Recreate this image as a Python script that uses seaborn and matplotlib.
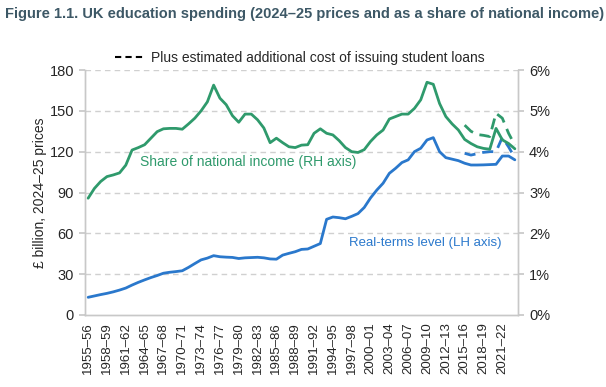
import matplotlib
matplotlib.use("Agg")
import matplotlib.pyplot as plt
import seaborn as sns
import numpy as np
import pandas as pd
from matplotlib.lines import Line2D

start_years = list(range(1955, 2024))
years = [f"{y}–{str(y + 1)[-2:]}" for y in start_years]

real_terms = [13.0, 14.0, 15.0, 15.9, 17.0, 18.3, 19.8, 22.0, 24.0, 25.8,
              27.5, 29.0, 30.7, 31.4, 31.9, 32.5, 35.0, 37.8, 40.5, 41.8,
              43.6, 42.8, 42.5, 42.3, 41.5, 42.0, 42.2, 42.4, 42.0, 41.2,
              41.0, 44.0, 45.3, 46.5, 48.2, 48.5, 50.5, 52.5, 70.3, 72.0,
              71.5, 70.7, 72.5, 74.5, 79.0, 86.0, 91.8, 96.8, 104.1, 107.8,
              112.0, 114.0, 120.0, 122.5, 128.6, 130.3, 120.0, 115.6, 114.5, 113.4,
              111.5, 110.2, 110.2, 110.3, 110.5, 110.7, 116.8, 116.8, 114.0]

share_income = [2.86, 3.10, 3.27, 3.39, 3.43, 3.48, 3.67, 4.04, 4.10, 4.17,
                4.33, 4.49, 4.56, 4.57, 4.57, 4.55, 4.68, 4.82, 5.00, 5.22,
                5.63, 5.31, 5.15, 4.88, 4.72, 4.92, 4.92, 4.78, 4.58, 4.22,
                4.33, 4.22, 4.12, 4.10, 4.16, 4.17, 4.45, 4.56, 4.45, 4.41,
                4.27, 4.10, 4.00, 3.98, 4.05, 4.25, 4.41, 4.53, 4.80, 4.86,
                4.92, 4.92, 5.06, 5.27, 5.70, 5.65, 5.18, 4.86, 4.68, 4.53,
                4.30, 4.20, 4.12, 4.08, 4.06, 4.57, 4.29, 4.20, 4.07]

loans_years = years[60:]
real_terms_loans = [118.8, 117.5, 118.5, 119.5, 120.0, 120.0, 130.5, 123.5, 115.5]
share_loans = [4.65, 4.50, 4.42, 4.40, 4.37, 4.94, 4.82, 4.45, 4.16]

green = "#2f9a6c"
blue = "#2a78cc"
title_col = "#3d5866"

sns.set_theme(style="white")
plt.rcParams['font.family'] = ['Liberation Sans', 'DejaVu Sans']

df = pd.DataFrame({"x": np.arange(len(years)), "real": real_terms, "share": share_income})
dfl = pd.DataFrame({"x": np.arange(60, 60 + len(loans_years)), "real": real_terms_loans, "share": share_loans})

fig = plt.figure(figsize=(6.06, 3.87), dpi=100)
ax = fig.add_axes([85 / 606, 1 - 315 / 387, (518 - 85) / 606, (315 - 70) / 387])
ax2 = ax.twinx()

for y in [30, 60, 90, 120, 150, 180]:
    ax.axhline(y, color="#d0d0d0", lw=1, ls=(0, (4, 3)), zorder=0)

sns.lineplot(data=df, x="x", y="real", ax=ax, color=blue, lw=2)
sns.lineplot(data=dfl, x="x", y="real", ax=ax, color=blue, lw=2, ls=(0, (4, 2.5)))
sns.lineplot(data=df, x="x", y="share", ax=ax2, color=green, lw=2)
sns.lineplot(data=dfl, x="x", y="share", ax=ax2, color=green, lw=2, ls=(0, (4, 2.5)))

ax.set_xlim(-0.5, len(years) - 0.5)
ax.set_ylim(0, 180)
ax2.set_ylim(0, 6)
ax.set_yticks([0, 30, 60, 90, 120, 150, 180])
ax2.set_yticks([0, 1, 2, 3, 4, 5, 6])
ax2.set_yticklabels([f"{v}%" for v in range(7)])

ax.set_xticks(np.arange(len(years)))
ax.set_xticklabels([yr if i % 3 == 0 else "" for i, yr in enumerate(years)], rotation=90, fontsize=9.5)
ax.tick_params(axis="x", length=3, width=0.6, color="#c8c8c8", pad=2)
ax.tick_params(axis="y", labelsize=10.5, length=4, color="#c8c8c8", pad=4)
ax2.tick_params(axis="y", labelsize=10.5, length=4, color="#c8c8c8", pad=4)
ax.set_xlabel("")
ax.set_ylabel("£ billion, 2024–25 prices", fontsize=10, labelpad=2)
ax2.set_ylabel("")

for a in (ax, ax2):
    a.spines["top"].set_visible(False)
    for s in ("left", "right", "bottom"):
        a.spines[s].set_color("#c8c8c8")
        a.spines[s].set_linewidth(1)

ax.text(8.3, 112.5, "Share of national income (RH axis)", color=green, fontsize=10, va="center")
ax.text(41.6, 53, "Real-terms level (LH axis)", color=blue, fontsize=9.5, va="center")

handle = Line2D([0], [0], color="black", lw=1.5, ls=(0, (3, 2)))
fig.legend([handle], ["Plus estimated additional cost of issuing student loans"],
           loc="center", bbox_to_anchor=(300 / 606, 1 - 58 / 387), frameon=False,
           fontsize=10, handlelength=2.0, handletextpad=0.6)

fig.text(5 / 606, 1 - 14 / 387, "Figure 1.1. UK education spending (2024–25 prices and as a share of national income)",
         fontsize=10.5, fontweight="bold", color=title_col, va="center", ha="left")

fig.savefig("out.png", dpi=100)
